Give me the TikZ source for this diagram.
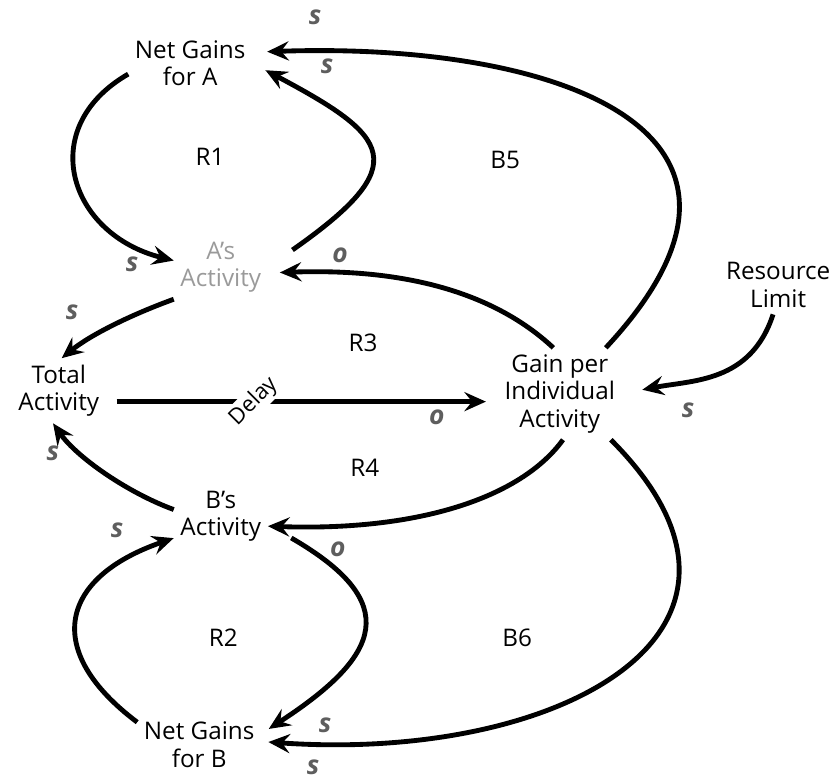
\documentclass[tikz,border=0pt]{standalone}
\usepackage{fontspec}
\setmainfont{Open Sans}
\usetikzlibrary{arrows.meta}
\definecolor{fgray}{HTML}{9A9A9A}
\definecolor{fpol}{HTML}{5E5E5E}
\tikzset{
  var/.style      = {align=center, inner xsep=3pt, inner ysep=3pt},
  link/.style     = {-{Stealth[length=3.6mm,width=3.2mm,inset=1.3mm]},
                     line width=2.3pt},
  pol/.style      = {text=fpol, inner sep=1pt,
                     font=\fontsize{12.5}{14}\selectfont\bfseries\itshape},
  loopname/.style = {inner sep=1pt},
  delaylabel/.style = {fill=white, rotate=45, inner sep=1pt,
                     font=\fontsize{10.5}{12}\selectfont},
}

\begin{document}
\begin{tikzpicture}[font=\fontsize{11.5}{13}\selectfont]
\useasboundingbox (0,0) rectangle (14,12.983);
% ---- variables ----
\node[var] (ngA)   at (3.17,11.93) {Net Gains\\for A};
\node[var, text=fgray] (aAct) at (3.68,8.53) {A’s\\Activity};
\node[var] (total) at (0.98,6.47)  {Total\\Activity};
\node[var] (gain)  at (9.33,6.42)  {Gain per\\Individual\\Activity};
\node[var] (res)   at (12.97,8.23) {Resource\\Limit};
\node[var] (bAct)  at (3.68,4.38)  {B’s\\Activity};
\node[var] (ngB)   at (3.32,0.57)  {Net Gains\\for B};
% ---- loop names ----
\node[loopname] (R1) at (3.50,10.37) {R1};
\node[loopname] (B5) at (8.42,10.32) {B5};
\node[loopname] (R3) at (6.05,7.27)  {R3};
\node[loopname] (R4) at (6.08,5.18)  {R4};
\node[loopname] (R2) at (3.72,2.35)  {R2};
\node[loopname] (B6) at (8.62,2.35)  {B6};
% ---- loop R1 ----
\draw[link] (ngA.190) .. controls +(210:1.8) and +(166:1.8) .. (aAct.172);
\draw[link, shorten <=0.5cm, shorten >=0.25cm]
      (aAct.east) .. controls +(35:3) and +(-28:2.6) .. (ngA.east);
% ---- loop B5 ----
\draw[link, shorten >=0.25cm]
      (gain.45) .. controls +(47:5) and +(2:5) .. (ngA.10);
% ---- loop R3 ----
\draw[link, shorten >=0.2cm]
      (gain.98) .. controls +(137:1.2) and +(2:2.5) .. (aAct.-7);
\draw[link] (aAct.south west) .. controls +(200:0.8) and +(39:0.6) .. (total.85);
% ---- delayed link ----
\draw[link, shorten <=0.18cm, shorten >=0.2cm] (total.-13)
      -- node[delaylabel, pos=0.377] (delay) {Delay} (total.-13 -| gain.west);
% ---- loop R4 ----
\draw[link] (gain.-86) .. controls +(234:1.2) and +(-2:2.5) .. (bAct.-12);
\draw[link] (bAct.172) .. controls +(160:0.8) and +(305:0.7) .. (total.-100);
% ---- loop R2 ----
\draw[link, shorten <=0.45cm, shorten >=0.15cm]
      (bAct.-10) .. controls +(-30:2.6) and +(33:2.4) .. (ngB.10);
\draw[link] (ngB.160) .. controls +(143:2) and +(199:2) .. (bAct.205);
% ---- loop B6 ----
\draw[link, shorten >=0.12cm]
      (gain.-42) .. controls +(-45:4.5) and +(-4:5) .. (ngB.3);
% ---- resource limit ----
\draw[link, shorten >=0.35cm]
      (res.-100) .. controls +(252:1.2) and +(11:1.2) .. (gain.east);
% ---- polarities ----
\node[pol] (p1)  at (5.25,12.70) {s};
\node[pol] (p2)  at (5.45,11.87) {s};
\node[pol] (p3)  at (2.20,8.57)  {s};
\node[pol] (p4)  at (5.67,8.73)  {o};
\node[pol] (p5)  at (1.20,7.77)  {s};
\node[pol] (p6)  at (0.88,5.42)  {s};
\node[pol] (p7)  at (7.28,6.03)  {o};
\node[pol] (p8)  at (11.47,6.15) {s};
\node[pol] (p9)  at (1.95,4.15)  {s};
\node[pol] (p10) at (5.63,3.82)  {o};
\node[pol] (p11) at (5.42,0.90)  {s};
\node[pol] (p12) at (5.22,0.20)  {s};
\end{tikzpicture}
\end{document}
